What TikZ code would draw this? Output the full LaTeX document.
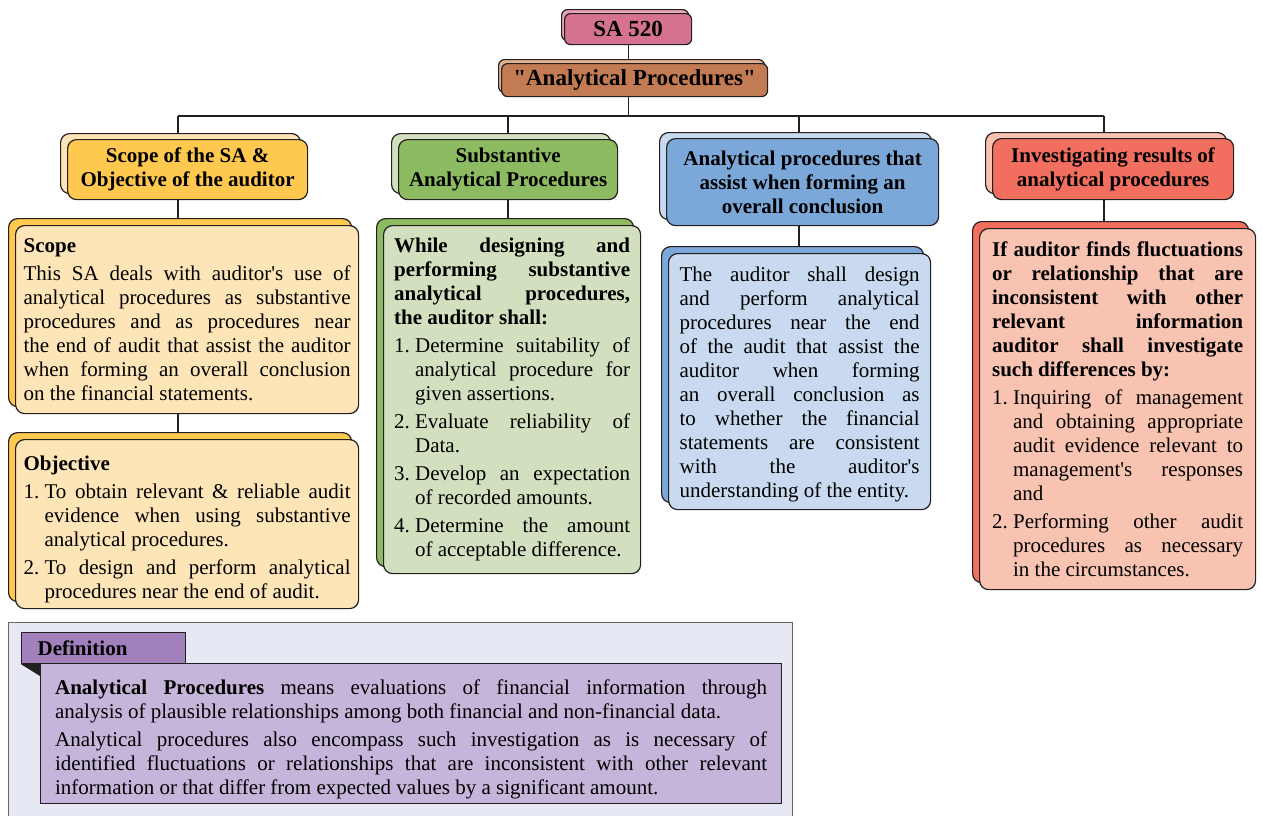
\documentclass[tikz,border=0pt]{standalone}
\usepackage{fontspec}
\setmainfont{Liberation Serif}
\usetikzlibrary{shadows, backgrounds}

\definecolor{lineC}{HTML}{231F20}
\definecolor{pinkF}{HTML}{D5728F}
\definecolor{pinkS}{HTML}{E7A4B6}
\definecolor{brownF}{HTML}{C27B52}
\definecolor{brownS}{HTML}{E2B292}
\definecolor{yelD}{HTML}{FFC84E}
\definecolor{yelL}{HTML}{FDE5B8}
\definecolor{grnD}{HTML}{8DBB62}
\definecolor{grnL}{HTML}{D3E0BF}
\definecolor{bluD}{HTML}{7CA8D9}
\definecolor{bluL}{HTML}{C9D9EF}
\definecolor{redD}{HTML}{F26E5F}
\definecolor{redL}{HTML}{F8C3B1}
\definecolor{defbg}{HTML}{E6E8F4}
\definecolor{deftab}{HTML}{A180BC}
\definecolor{defbody}{HTML}{C6B5DA}

\setlength{\parindent}{0pt}
\tolerance=9999 \hbadness=10000 \hyphenpenalty=10000 \exhyphenpenalty=10000
\newcommand{\q}{\textquotesingle}
\newcommand{\itm}[2]{\par\vspace{4pt}\noindent\hangindent=21pt\hangafter=1\makebox[21pt][l]{#1}#2\par}

\begin{document}
\begin{tikzpicture}[x=1pt, y=-1pt, line width=1.2pt,
  box/.style={draw=lineC, rounded corners=9pt, inner sep=0pt},
  topbox/.style 2 args={box, rounded corners=6pt, fill=#1, font=\bfseries\fontsize{23}{26}\selectfont,
    copy shadow={shadow xshift=-3pt, shadow yshift=4pt, fill=#2, draw=lineC}, anchor=north west},
  hdr/.style 2 args={box, fill=#1, align=center, font=\bfseries\fontsize{21}{24}\selectfont,
    copy shadow={shadow xshift=-7pt, shadow yshift=6pt, fill=#2, draw=lineC}, anchor=north west},
  body/.style 2 args={box, fill=#1, align=justify, font=\fontsize{21}{24}\selectfont,
    copy shadow={shadow xshift=-7pt, shadow yshift=7pt, fill=#2, draw=lineC}, anchor=north west},
  conn/.style={draw=lineC, line width=1.2pt}]
  \useasboundingbox (0,0) rectangle (1262,815);

  % top of the chart
  \node (sa) [topbox={pinkF}{pinkS}, minimum width=127, minimum height=31] at (564,13) {SA 520};
  \node (ap) [topbox={brownF}{brownS}, minimum width=266, minimum height=33] at (501,63) {\textquotedbl Analytical Procedures\textquotedbl};

  \node (h1) [hdr={yelD}{yelL}, minimum width=240, minimum height=60] at (67,139) {Scope of the SA \&\\Objective of the auditor};
  \node (h2) [hdr={grnD}{grnL}, minimum width=219, minimum height=60] at (398,139) {Substantive\\Analytical Procedures};
  \node (h3) [hdr={bluD}{bluL}, minimum width=272, minimum height=87] at (666,138) {Analytical procedures that\\assist when forming an\\overall conclusion};
  \node (h4) [hdr={redD}{redL}, minimum width=241, minimum height=61] at (992,138) {Investigating results of\\analytical procedures};

  \node (scope) [body={yelL}{yelD}, text width=327, inner xsep=8pt, minimum height=188] at (15,225) {%
    {\bfseries Scope}\par\vspace{4pt}
    This SA deals with auditor\q s use of\linebreak analytical procedures as substantive\linebreak procedures and as procedures near\linebreak the end of audit that assist the auditor\linebreak when forming an overall conclusion\linebreak on the financial statements.};
  \node (objective) [body={yelL}{yelD}, text width=327, inner xsep=8pt, minimum height=169] at (15,439) {%
    \rule{0pt}{25pt}{\bfseries Objective}
    \itm{1.}{To obtain relevant \& reliable audit\linebreak evidence when using substantive\linebreak analytical procedures.}
    \itm{2.}{To design and perform analytical\linebreak procedures near the end of audit.}};
  \node (sap) [body={grnL}{grnD}, text width=236, inner xsep=10.5pt, minimum height=348] at (383,225) {%
    {\bfseries While designing and\linebreak performing substantive\linebreak analytical procedures,\linebreak the auditor shall:}
    \itm{1.}{Determine suitability of\linebreak analytical procedure for\linebreak given assertions.}
    \itm{2.}{Evaluate reliability of\linebreak Data.}
    \itm{3.}{Develop an expectation\linebreak of recorded amounts.}
    \itm{4.}{Determine the amount\linebreak of acceptable difference.}};
  \node (oc) [body={bluL}{bluD}, text width=240, inner xsep=11pt, minimum height=256] at (668,253) {%
    \rule{0pt}{21pt}The auditor shall design\linebreak and perform analytical\linebreak procedures near the end\linebreak of the audit that assist the\linebreak auditor when forming\linebreak an overall conclusion as\linebreak to whether the financial\linebreak statements are consistent\linebreak with the auditor\q s\linebreak understanding of the entity.};
  \node (inv) [body={redL}{redD}, text width=251, inner xsep=12.5pt, minimum height=361] at (979,228) {%
    {\bfseries If auditor finds fluctuations\linebreak or relationship that are\linebreak inconsistent with other\linebreak relevant information\linebreak auditor shall investigate\linebreak such differences by:}
    \itm{1.}{Inquiring of management\linebreak and obtaining appropriate\linebreak audit evidence relevant to\linebreak management\q s responses\linebreak and}
    \itm{2.}{Performing other audit\linebreak procedures as necessary\linebreak in the circumstances.}};

  % definition panel
  \draw [draw=black!60, fill=defbg, line width=1pt] (8,622) rectangle (792,830);
  \node (deftab) [draw=lineC, fill=deftab, anchor=north west, inner ysep=0pt, inner xsep=16pt,
    text width=132, minimum height=31, font=\bfseries\fontsize{21}{24}\selectfont] at (21,632) {Definition};
  \node (def) [draw=lineC, fill=defbody, anchor=north west, inner ysep=0pt, inner xsep=14.5pt, align=justify,
    text width=712, minimum height=140, font=\fontsize{21}{24}\selectfont] at (40,663) {%
    \rule{0pt}{27pt}\textbf{Analytical Procedures} means evaluations of financial information through\linebreak analysis of plausible relationships among both financial and non-financial data.\par\vspace{4pt}
    Analytical procedures also encompass such investigation as is necessary of\linebreak identified fluctuations or relationships that are inconsistent with other relevant\linebreak information or that differ from expected values by a significant amount.};
  \fill [lineC] (deftab.south west) -- (def.north west) -- ([yshift=-13pt]def.north west) -- cycle;

  % connectors
  \coordinate (t1) at (178,116);
  \coordinate (t2) at (508,116);
  \coordinate (t3) at (799,116);
  \coordinate (t4) at (1104,116);
  \begin{scope}[on background layer]
    \draw [conn] (sa.south) -- (sa.south |- t1);
    \draw [conn] (t1) -- (t4);
    \draw [conn] (t1) -- (t1 |- objective.north);
    \draw [conn] (t2) -- (t2 |- sap.north);
    \draw [conn] (t3) -- (t3 |- oc.north);
    \draw [conn] (t4) -- (t4 |- inv.north);
  \end{scope}
\end{tikzpicture}
\end{document}
